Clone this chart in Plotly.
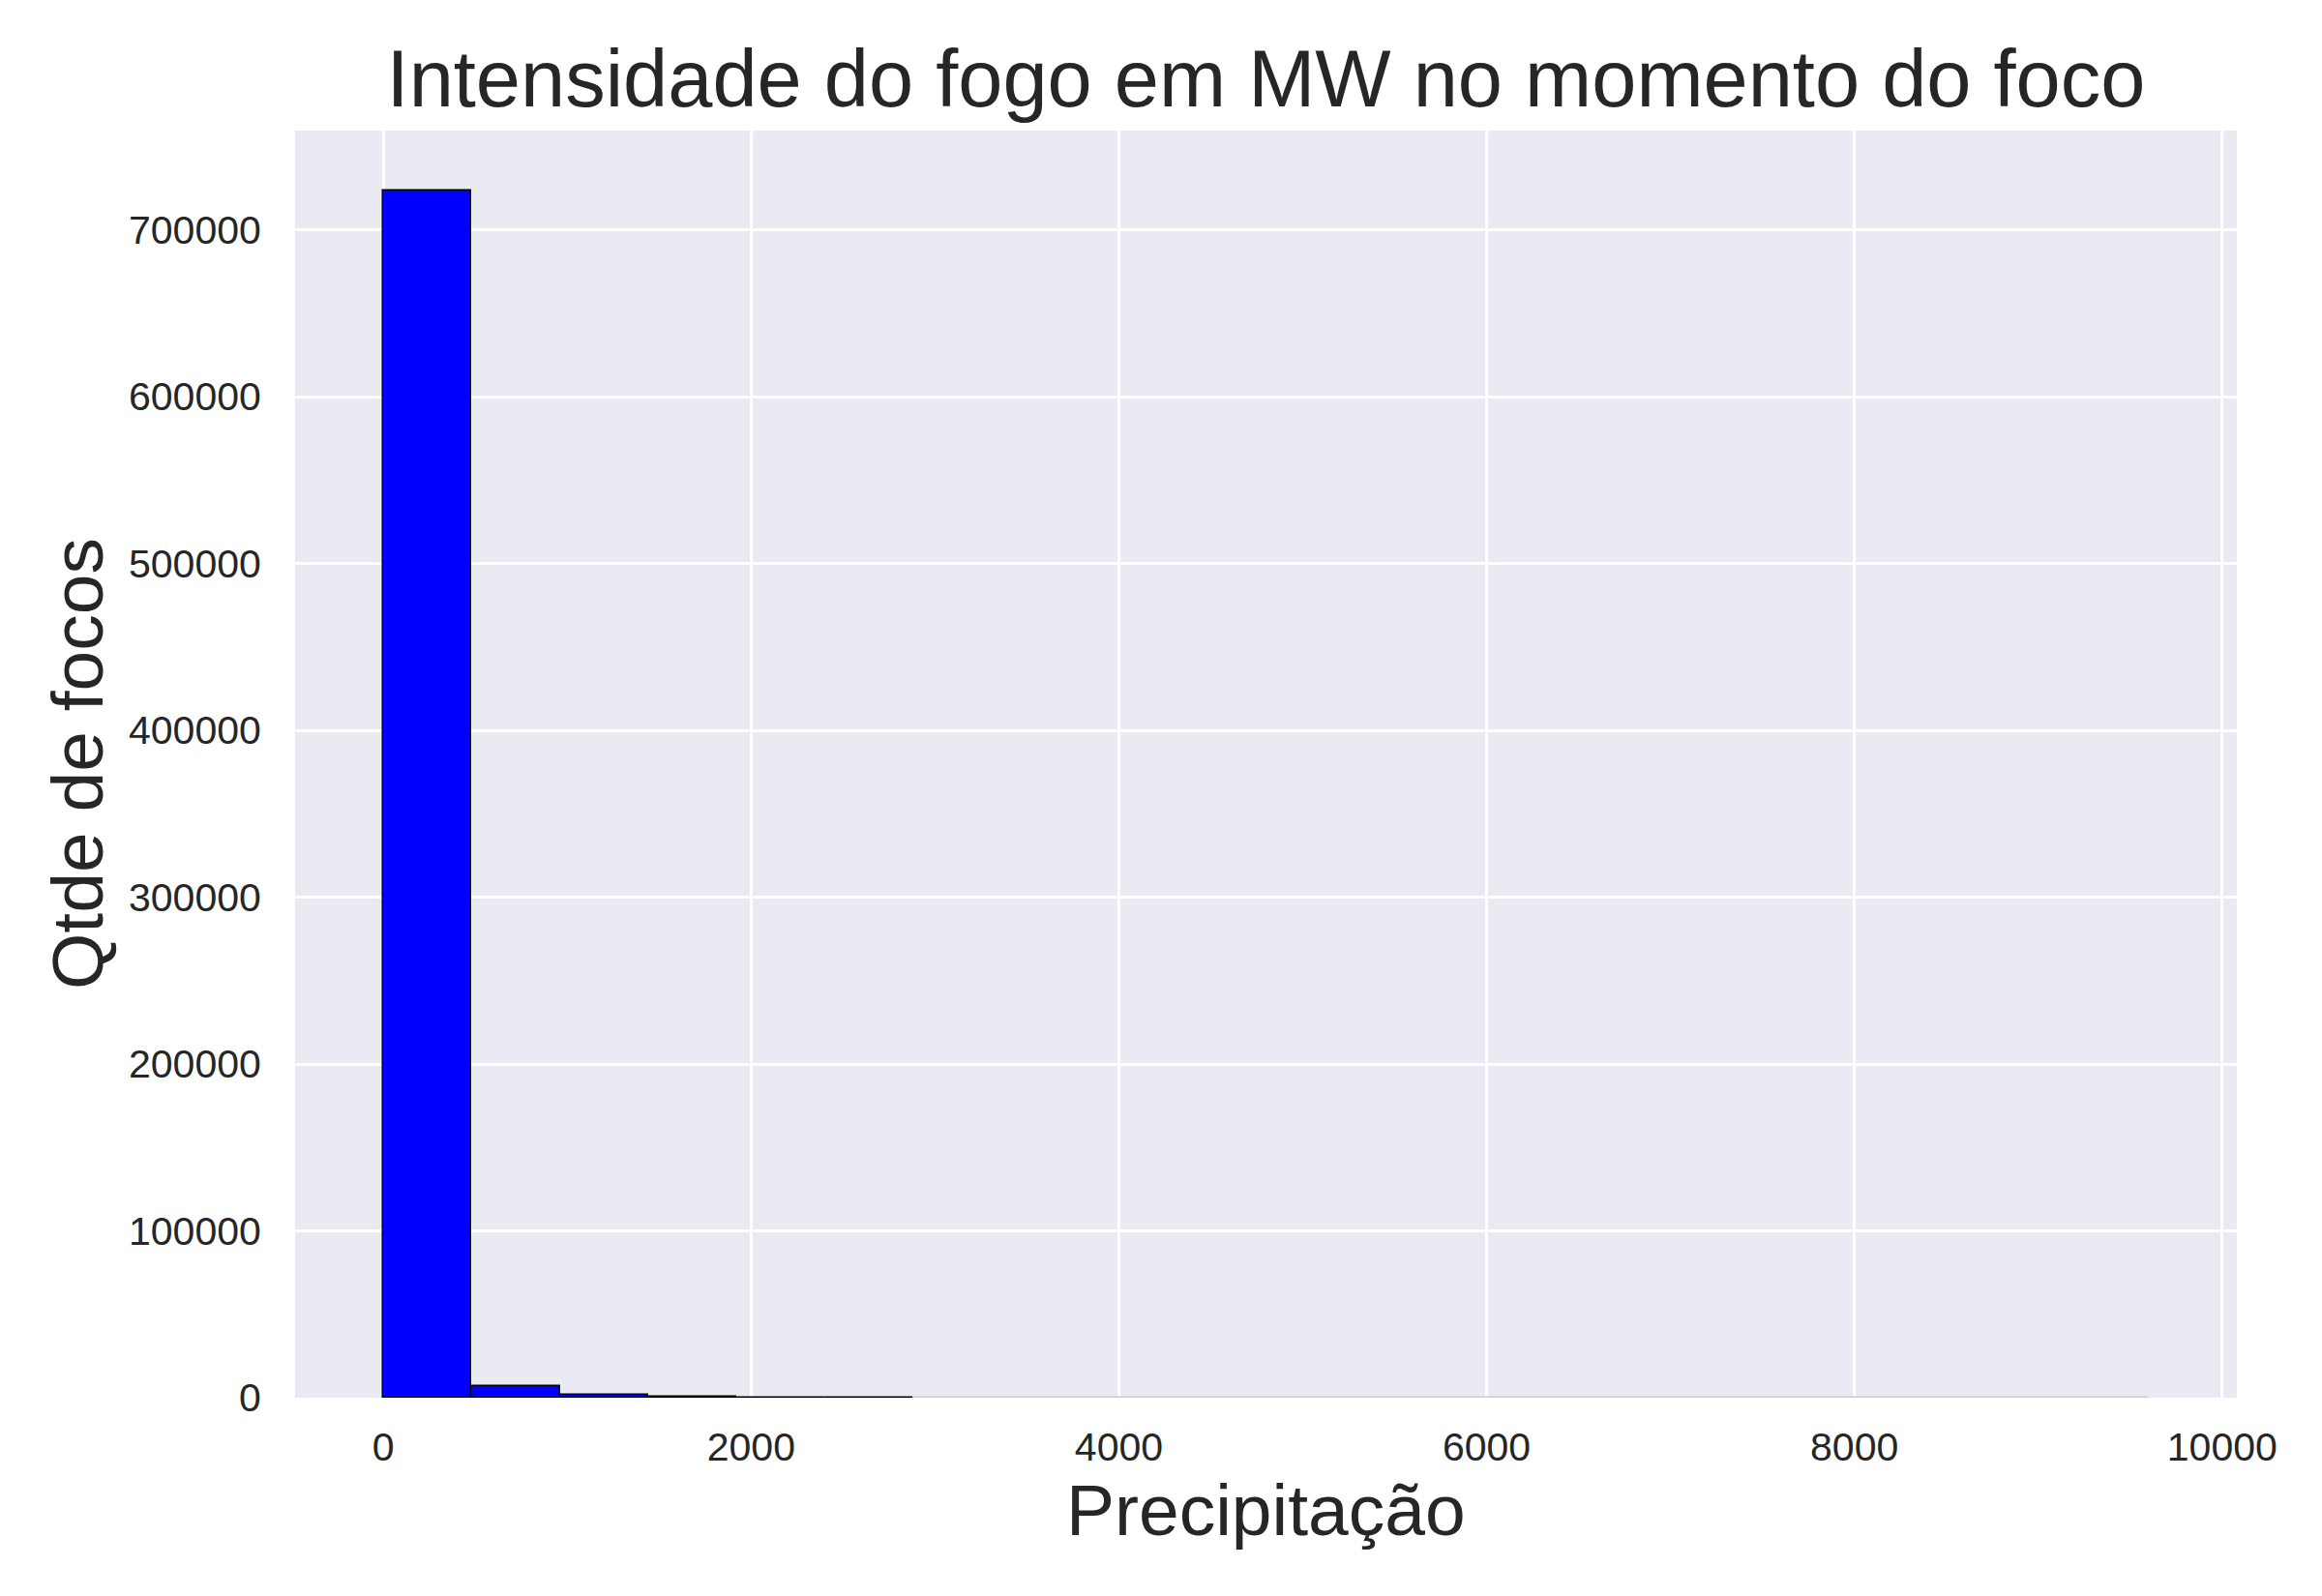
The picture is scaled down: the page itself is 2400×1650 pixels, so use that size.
import plotly.graph_objects as go

# Histogram data: 20 bins from 0 to 9600 (bin width 480)
bin_edges = [i * 480 for i in range(21)]
counts = [723300, 7000, 1500, 300, 120, 60, 0, 0, 0, 0, 0, 0, 0, 0, 0, 0, 0, 0, 0, 0]
x_ticks = [0, 2000, 4000, 6000, 8000, 10000]
y_ticks = [0, 100000, 200000, 300000, 400000, 500000, 600000, 700000]

centers = [(bin_edges[i] + bin_edges[i + 1]) / 2 for i in range(len(counts))]
widths = [bin_edges[i + 1] - bin_edges[i] for i in range(len(counts))]
line_colors = ["black" if c > 0 else "#cccccc" for c in counts]

W, H = 2400, 1650
ML, MR, MT, MB = 305, 88, 135, 205
PW, PH = W - ML - MR, H - MT - MB

fig = go.Figure()
fig.add_trace(go.Bar(
    x=centers, y=counts, width=widths,
    marker=dict(color="blue", line=dict(color=line_colors, width=1.5)),
))

fig.update_layout(
    width=W, height=H,
    margin=dict(l=ML, r=MR, t=MT, b=MB),
    paper_bgcolor="white", plot_bgcolor="#EAEAF2",
    font=dict(family="Liberation Sans, Arial, sans-serif", color="#262626"),
    title=dict(text="Intensidade do fogo em MW no momento do foco",
               x=(ML + PW / 2) / W, xanchor="center", y=1 - 81 / H, yanchor="middle",
               font=dict(size=83, color="#262626")),
    showlegend=False, bargap=0,
    annotations=[
        dict(text="Precipitação", xref="paper", yref="paper",
             x=0.5, y=-(1561 - (H - MB)) / PH, xanchor="center", yanchor="middle",
             showarrow=False, font=dict(size=75, color="#262626")),
        dict(text="Qtde de focos", xref="paper", yref="paper",
             x=-(ML - 80) / PW, y=0.5, xanchor="center", yanchor="middle",
             textangle=-90, showarrow=False, font=dict(size=75, color="#262626")),
    ],
)
xmax = bin_edges[-1]
fig.update_xaxes(
    range=[-0.05 * xmax, 1.05 * xmax],
    tickvals=x_ticks, ticktext=[str(v) for v in x_ticks],
    showgrid=True, gridcolor="white", gridwidth=3,
    zeroline=False, showline=False,
    ticks="outside", ticklen=15, tickcolor="rgba(0,0,0,0)",
    tickfont=dict(size=41, color="#262626"),
)
ymax = max(counts)
fig.update_yaxes(
    range=[0, 1.05 * ymax],
    tickvals=y_ticks, ticktext=[str(v) for v in y_ticks],
    showgrid=True, gridcolor="white", gridwidth=3,
    zeroline=False, showline=False,
    ticks="outside", ticklen=26, tickcolor="rgba(0,0,0,0)",
    tickfont=dict(size=41, color="#262626"),
)

fig.write_html("out.html")
